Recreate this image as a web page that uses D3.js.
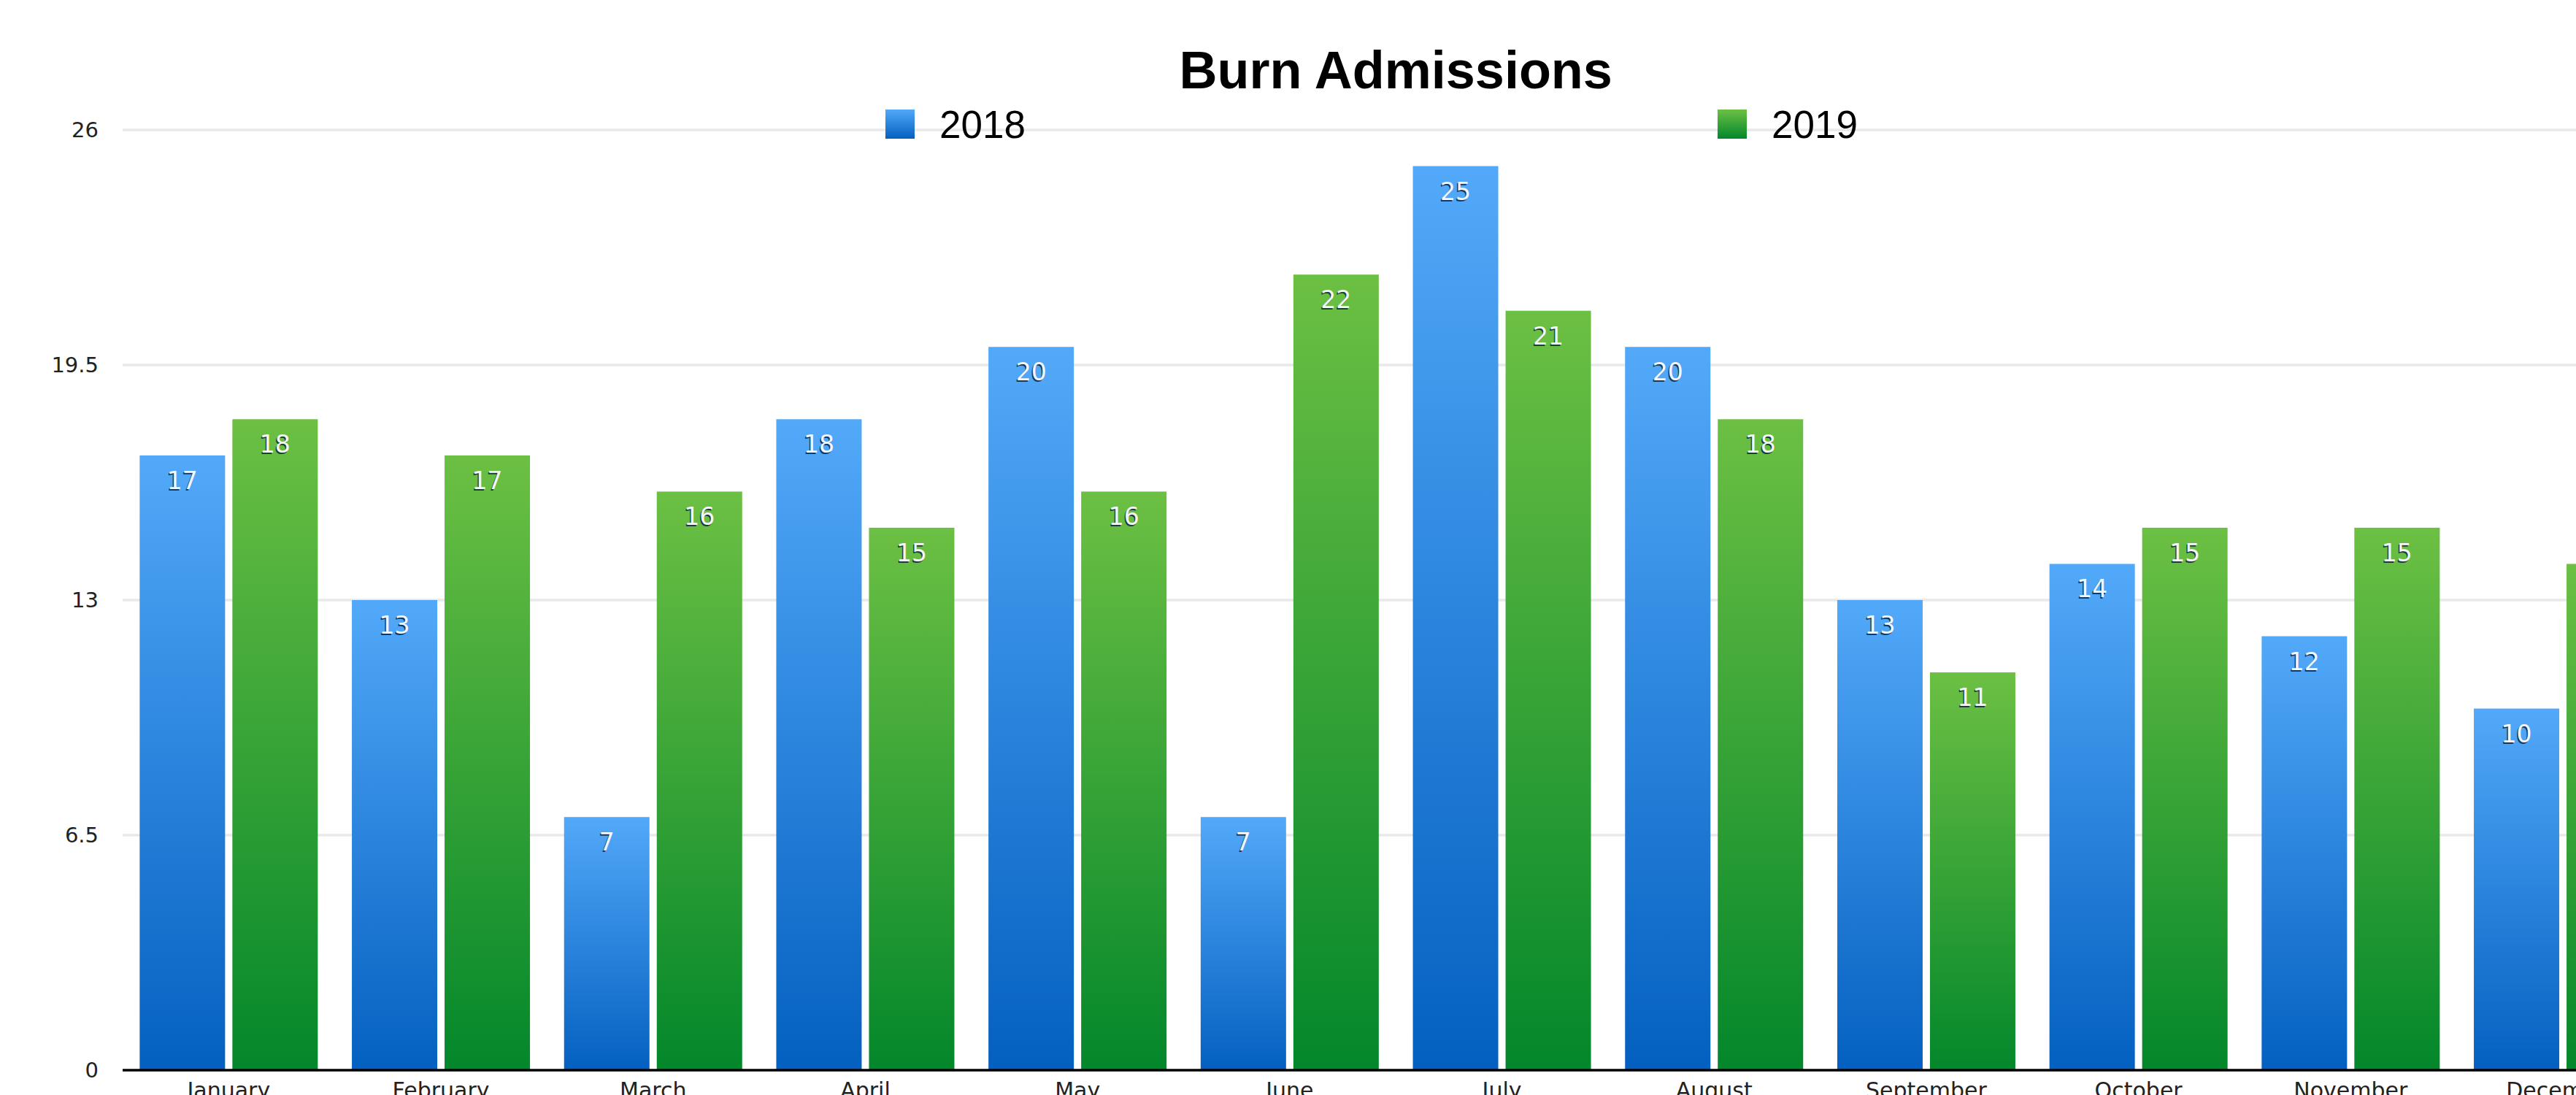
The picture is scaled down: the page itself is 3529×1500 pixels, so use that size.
<!DOCTYPE html>
<html>
<head>
<meta charset="utf-8">
<script src="https://cdn.jsdelivr.net/npm/d3@7"></script>
<style>
  html, body { margin: 0; padding: 0; background: #ffffff; overflow: hidden; }
  svg { display: block; }
</style>
</head>
<body>
<svg id="chart" width="3529" height="1500"></svg>
<script>
// ---- data ----
const months = ["January", "February", "March", "April", "May", "June",
                "July", "August", "September", "October", "November", "December"];
const seriesNames = ["2018", "2019"];
const values2018 = [17, 13, 7, 18, 20, 7, 25, 20, 13, 14, 12, 10];
const values2019 = [18, 17, 16, 15, 16, 22, 21, 18, 11, 15, 15, 14];
const yTickValues = [0, 6.5, 13, 19.5, 26];
const yTickLabels = ["0", "6.5", "13", "19.5", "26"];
const titleText = "Burn Admissions";

const seriesValues = { "2018": values2018, "2019": values2019 };
const table = months.map((m, i) => ({ month: m, "2018": values2018[i], "2019": values2019[i] }));

// ---- layout ----
const svg = d3.select("#chart");
const plotLeft = 168, step = 290.7;
const plotRight = plotLeft + step * months.length;
const yBottom = 1466, yTop = 178;

const x0 = d3.scaleBand().domain(months).range([plotLeft, plotRight])
  .paddingInner(46.7 / 290.7).paddingOuter(23.35 / 290.7);
const x1 = d3.scaleBand().domain(seriesNames).range([0, x0.bandwidth()])
  .paddingInner(10 / 127).paddingOuter(0);
const y = d3.scaleLinear().domain([0, 26]).range([yBottom, yTop]);

// gradients
const defs = svg.append("defs");
const grads = {
  "2018": ["#53a9f9", "#0460c0"],
  "2019": ["#6cc043", "#03872b"]
};
seriesNames.forEach(s => {
  const g = defs.append("linearGradient").attr("id", "g" + s)
    .attr("x1", 0).attr("y1", 0).attr("x2", 0).attr("y2", 1);
  g.append("stop").attr("offset", "0%").attr("stop-color", grads[s][0]);
  g.append("stop").attr("offset", "100%").attr("stop-color", grads[s][1]);
});

// gridlines
const grid = svg.append("g");
grid.selectAll("line").data(yTickValues.filter(v => v > 0)).join("line")
  .attr("x1", plotLeft).attr("x2", 3529)
  .attr("y1", d => y(d)).attr("y2", d => y(d))
  .attr("stroke", "#e9e9e9").attr("stroke-width", 3.5);

// y tick labels
svg.append("g").selectAll("text").data(yTickValues).join("text")
  .attr("x", 135).attr("y", d => y(d)).attr("dy", "0.36em")
  .attr("text-anchor", "end")
  .attr("font-family", "'DejaVu Sans', sans-serif").attr("font-size", 29)
  .attr("fill", "#222")
  .text((d, i) => yTickLabels[i]);

// bars
const groups = svg.append("g").selectAll("g").data(table).join("g")
  .attr("transform", d => `translate(${x0(d.month)},0)`);

groups.selectAll("rect").data(d => seriesNames.map(s => ({ s, v: d[s] }))).join("rect")
  .attr("x", d => x1(d.s)).attr("width", x1.bandwidth())
  .attr("y", d => y(d.v)).attr("height", d => y(0) - y(d.v))
  .attr("fill", d => `url(#g${d.s})`);

// value labels: shadow + white
const labelData = d => seriesNames.map(s => ({ s, v: d[s] }));
groups.selectAll("text.shadow").data(labelData).join("text")
  .attr("class", "shadow")
  .attr("x", d => x1(d.s) + x1.bandwidth() / 2 - 1.5)
  .attr("y", d => y(d.v) + 48)
  .attr("text-anchor", "middle")
  .attr("font-family", "'DejaVu Sans', sans-serif").attr("font-size", 33)
  .attr("fill", "rgba(0,20,50,0.75)")
  .text(d => d.v);
groups.selectAll("text.val").data(labelData).join("text")
  .attr("class", "val")
  .attr("x", d => x1(d.s) + x1.bandwidth() / 2)
  .attr("y", d => y(d.v) + 46)
  .attr("text-anchor", "middle")
  .attr("font-family", "'DejaVu Sans', sans-serif").attr("font-size", 33)
  .attr("fill", "#f4f6f8")
  .text(d => d.v);

// x axis line
svg.append("line")
  .attr("x1", plotLeft).attr("x2", 3529)
  .attr("y1", yBottom).attr("y2", yBottom)
  .attr("stroke", "#000").attr("stroke-width", 3.5);

// category labels
svg.append("g").selectAll("text").data(months).join("text")
  .attr("x", d => x0(d) + x0.bandwidth() / 2)
  .attr("y", 1504)
  .attr("text-anchor", "middle")
  .attr("font-family", "'DejaVu Sans', sans-serif").attr("font-size", 30)
  .attr("fill", "#222")
  .text(d => d);

// title
svg.append("text")
  .attr("x", (plotLeft + plotRight) / 2).attr("y", 121)
  .attr("text-anchor", "middle")
  .attr("font-family", "'Liberation Sans', Arial, sans-serif")
  .attr("font-weight", "bold").attr("font-size", 72)
  .attr("fill", "#000")
  .text(titleText);

// legend
const legendX = { "2018": 1213, "2019": 2353 };
const legend = svg.append("g").selectAll("g").data(seriesNames).join("g")
  .attr("transform", d => `translate(${legendX[d]},150)`);
legend.append("rect").attr("x", 0).attr("y", 0).attr("width", 40).attr("height", 40)
  .attr("fill", d => `url(#g${d})`);
legend.append("text").attr("x", 74).attr("y", 39)
  .attr("font-family", "'Liberation Sans', Arial, sans-serif").attr("font-size", 53)
  .attr("fill", "#000")
  .text(d => d);
</script>
</body>
</html>
